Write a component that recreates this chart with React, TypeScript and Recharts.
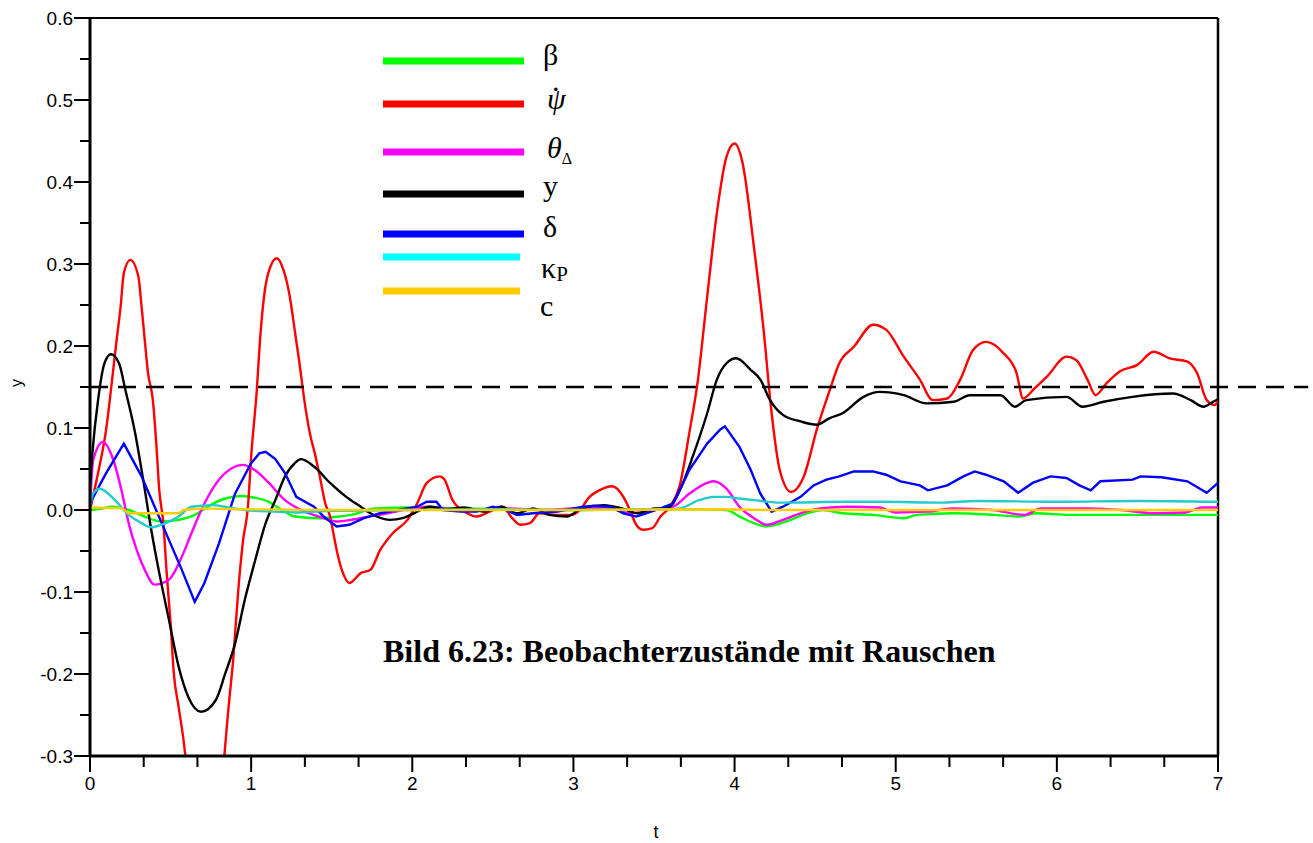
import { LineChart, Line, XAxis, YAxis, ReferenceLine } from "recharts";

type Pt = [number, number];

// observer states as [t, value]
const beta: Pt[] = [
  [0, 0], [0.08, 0.002], [0.13, 0.004], [0.24, 0], [0.34, -0.008], [0.44, -0.014],
  [0.55, -0.012], [0.65, -0.006], [0.73, 0.004], [0.84, 0.014], [0.94, 0.017],
  [1.02, 0.015], [1.11, 0.01], [1.19, 0], [1.27, -0.008], [1.42, -0.01], [1.54, -0.008],
  [1.62, -0.006], [1.77, 0.002], [2.0, 0.003], [2.3, 0.002], [2.6, 0.001], [3.0, 0],
  [3.4, 0.001], [3.8, 0.001], [3.95, 0], [4.03, -0.008], [4.12, -0.016], [4.2, -0.02],
  [4.32, -0.014], [4.45, -0.004], [4.55, 0], [4.67, -0.004], [4.86, -0.006], [5.05, -0.01],
  [5.13, -0.006], [5.36, -0.004], [5.61, -0.006], [5.77, -0.008], [5.87, -0.004],
  [6.08, -0.006], [6.5, -0.006], [7, -0.006],
];

const psiDot: Pt[] = [
  [0, 0], [0.05, 0.045], [0.1, 0.098], [0.135, 0.155], [0.165, 0.207], [0.19, 0.248],
  [0.21, 0.289], [0.25, 0.305], [0.3, 0.285], [0.32, 0.248], [0.34, 0.207], [0.36, 0.167],
  [0.39, 0.134], [0.41, 0.085], [0.43, 0.024], [0.455, -0.016], [0.476, -0.077],
  [0.5, -0.138], [0.52, -0.199], [0.55, -0.24], [0.58, -0.28], [0.62, -0.35], [0.715, -0.45],
  [0.81, -0.35], [0.86, -0.24], [0.89, -0.179], [0.92, -0.098], [0.95, -0.037],
  [0.98, 0.004], [1.0, 0.065], [1.035, 0.146], [1.055, 0.207], [1.085, 0.268],
  [1.12, 0.297], [1.16, 0.307], [1.2, 0.293], [1.24, 0.26], [1.27, 0.22], [1.3, 0.179],
  [1.33, 0.134], [1.365, 0.093], [1.4, 0.065], [1.43, 0.037], [1.46, 0.008],
  [1.49, -0.008], [1.51, -0.028], [1.54, -0.057], [1.57, -0.077], [1.61, -0.089],
  [1.68, -0.077], [1.74, -0.073], [1.8, -0.049], [1.88, -0.028], [1.97, -0.012],
  [2.03, 0.008], [2.09, 0.033], [2.17, 0.041], [2.2, 0.037], [2.25, 0.012], [2.34, -0.004],
  [2.4, -0.008], [2.48, -0.002], [2.56, 0.004], [2.62, -0.01], [2.67, -0.018],
  [2.73, -0.016], [2.79, -0.004], [2.89, -0.006], [2.98, -0.006], [3.04, 0], [3.1, 0.016],
  [3.16, 0.024], [3.24, 0.029], [3.31, 0.016], [3.35, 0], [3.39, -0.018], [3.43, -0.024],
  [3.49, -0.022], [3.54, -0.008], [3.6, 0.004], [3.66, 0.03], [3.72, 0.095], [3.77, 0.155],
  [3.83, 0.26], [3.89, 0.362], [3.95, 0.431], [4.0, 0.447], [4.05, 0.423], [4.12, 0.321],
  [4.18, 0.22], [4.23, 0.118], [4.28, 0.049], [4.35, 0.022], [4.43, 0.041], [4.51, 0.098],
  [4.59, 0.146], [4.65, 0.179], [4.74, 0.199], [4.86, 0.226], [4.94, 0.22], [5.05, 0.187],
  [5.15, 0.159], [5.23, 0.134], [5.32, 0.136], [5.4, 0.159], [5.48, 0.195], [5.56, 0.205],
  [5.67, 0.191], [5.75, 0.167], [5.79, 0.136], [5.86, 0.148], [5.94, 0.163], [6.06, 0.187],
  [6.12, 0.183], [6.19, 0.159], [6.24, 0.14], [6.31, 0.155], [6.39, 0.169], [6.5, 0.177],
  [6.6, 0.193], [6.7, 0.185], [6.81, 0.181], [6.87, 0.167], [6.93, 0.134], [6.98, 0.128],
  [7, 0.135],
];

const thetaDelta: Pt[] = [
  [0, 0], [0.01, 0.04], [0.02, 0.061], [0.08, 0.083], [0.145, 0.061], [0.2, 0.02],
  [0.24, -0.016], [0.29, -0.049], [0.34, -0.073], [0.4, -0.091], [0.49, -0.085],
  [0.57, -0.057], [0.63, -0.028], [0.71, 0.008], [0.8, 0.037], [0.88, 0.051], [0.95, 0.055],
  [1.02, 0.049], [1.11, 0.033], [1.21, 0.012], [1.31, 0], [1.42, -0.008], [1.54, -0.014],
  [1.62, -0.012], [1.73, -0.008], [1.85, -0.004], [2.0, 0.002], [2.1, 0.004], [2.2, 0.002],
  [2.4, 0], [2.6, 0.002], [2.8, 0], [3.0, 0.002], [3.2, 0.003], [3.35, -0.004], [3.5, 0],
  [3.62, 0.004], [3.72, 0.02], [3.83, 0.033], [3.87, 0.035], [3.95, 0.026], [4.03, 0.004],
  [4.12, -0.01], [4.2, -0.018], [4.3, -0.012], [4.41, -0.004], [4.53, 0.002], [4.7, 0.004],
  [4.9, 0.003], [5.0, -0.003], [5.2, -0.002], [5.35, 0.002], [5.6, 0], [5.8, -0.006],
  [5.9, 0.002], [6.2, 0.002], [6.4, 0], [6.6, -0.004], [6.8, -0.003], [6.9, 0.003], [7, 0.003],
];

const yPos: Pt[] = [
  [0, 0.03], [0.015, 0.07], [0.05, 0.134], [0.09, 0.179], [0.13, 0.19], [0.18, 0.179],
  [0.22, 0.146], [0.28, 0.094], [0.33, 0.037], [0.38, -0.024], [0.43, -0.077],
  [0.49, -0.134], [0.55, -0.191], [0.61, -0.228], [0.69, -0.246], [0.78, -0.232],
  [0.84, -0.199], [0.9, -0.163], [0.96, -0.11], [1.02, -0.065], [1.09, -0.016],
  [1.15, 0.012], [1.21, 0.041], [1.27, 0.057], [1.31, 0.062], [1.39, 0.053], [1.49, 0.033],
  [1.59, 0.016], [1.68, 0.004], [1.74, -0.004], [1.86, -0.012], [1.94, -0.01],
  [2.01, -0.004], [2.11, 0.004], [2.21, 0.001], [2.32, 0.003], [2.45, -0.002],
  [2.55, 0.004], [2.65, -0.004], [2.75, 0.002], [2.85, -0.006], [2.96, -0.008],
  [3.05, 0.002], [3.19, 0.006], [3.3, 0.002], [3.4, -0.004], [3.5, 0.002], [3.58, 0.002],
  [3.66, 0.024], [3.74, 0.065], [3.83, 0.118], [3.89, 0.159], [3.95, 0.179], [4.01, 0.185],
  [4.1, 0.171], [4.16, 0.159], [4.22, 0.134], [4.3, 0.116], [4.41, 0.108], [4.51, 0.104],
  [4.59, 0.112], [4.67, 0.118], [4.8, 0.138], [4.9, 0.144], [5.05, 0.14], [5.19, 0.13],
  [5.36, 0.132], [5.46, 0.14], [5.65, 0.14], [5.74, 0.126], [5.81, 0.134], [6.06, 0.138],
  [6.16, 0.126], [6.29, 0.132], [6.47, 0.138], [6.72, 0.142], [6.83, 0.134], [6.91, 0.126],
  [6.97, 0.132], [7, 0.135],
];

const delta: Pt[] = [
  [0, 0], [0.01, 0.012], [0.1, 0.045], [0.21, 0.081], [0.32, 0.041], [0.445, -0.016],
  [0.57, -0.073], [0.65, -0.112], [0.71, -0.089], [0.8, -0.041], [0.9, 0.02], [1.0, 0.057],
  [1.05, 0.069], [1.09, 0.071], [1.15, 0.062], [1.21, 0.045], [1.28, 0.016], [1.39, 0.004],
  [1.45, -0.008], [1.53, -0.02], [1.61, -0.018], [1.7, -0.01], [1.8, -0.004], [1.97, 0.002],
  [2.03, 0.004], [2.09, 0.01], [2.15, 0.01], [2.19, 0], [2.3, -0.002], [2.4, -0.002],
  [2.5, 0.004], [2.58, 0], [2.65, -0.006], [2.75, -0.004], [2.9, -0.002], [3.06, 0.004],
  [3.12, 0.005], [3.23, 0.004], [3.31, -0.004], [3.39, -0.008], [3.45, -0.004],
  [3.54, 0.002], [3.62, 0.008], [3.72, 0.049], [3.83, 0.081], [3.91, 0.098], [3.94, 0.102],
  [4.03, 0.077], [4.1, 0.049], [4.16, 0.02], [4.23, -0.002], [4.3, 0.004], [4.41, 0.016],
  [4.49, 0.03], [4.57, 0.037], [4.65, 0.041], [4.74, 0.047], [4.86, 0.047], [4.94, 0.043],
  [5.03, 0.035], [5.15, 0.03], [5.2, 0.024], [5.32, 0.03], [5.42, 0.041], [5.49, 0.047],
  [5.56, 0.043], [5.67, 0.035], [5.76, 0.021], [5.85, 0.033], [5.96, 0.041], [6.06, 0.039],
  [6.14, 0.03], [6.21, 0.024], [6.27, 0.035], [6.47, 0.037], [6.52, 0.041], [6.65, 0.04],
  [6.81, 0.035], [6.93, 0.021], [7, 0.033],
];

const kappaP: Pt[] = [
  [0, 0.005], [0.02, 0.02], [0.06, 0.026], [0.155, 0.012], [0.24, -0.006], [0.32, -0.016],
  [0.38, -0.021], [0.47, -0.016], [0.55, -0.008], [0.63, 0.004], [0.76, 0.006],
  [0.86, 0.003], [0.96, 0], [1.13, -0.002], [1.3, -0.003], [1.5, -0.001], [2.0, 0],
  [2.5, 0.001], [3.0, 0], [3.6, 0.001], [3.66, 0.002], [3.78, 0.012], [3.87, 0.016],
  [3.95, 0.016], [4.03, 0.014], [4.12, 0.012], [4.28, 0.009], [4.7, 0.01], [4.9, 0.01],
  [5.3, 0.009], [5.5, 0.011], [6.0, 0.01], [6.5, 0.011], [7, 0.01],
];

const cState: Pt[] = [
  [0, 0.003], [0.2, 0.002], [0.24, -0.004], [0.55, -0.004], [0.58, 0], [0.7, 0.002],
  [0.9, 0.001], [1.5, 0], [3.0, 0], [3.9, 0.001], [4.2, 0], [7, 0],
];

const xTicks = [0, 1 / 3, 2 / 3, 1, 4 / 3, 5 / 3, 2, 7 / 3, 8 / 3, 3, 10 / 3, 11 / 3, 4,
  13 / 3, 14 / 3, 5, 16 / 3, 17 / 3, 6, 19 / 3, 20 / 3, 7];
const yTicks = [-0.3, -0.25, -0.2, -0.15, -0.1, -0.05, 0, 0.05, 0.1, 0.15, 0.2, 0.25,
  0.3, 0.35, 0.4, 0.45, 0.5, 0.55, 0.6];
const refLevel = 0.15;

const series = [
  { key: "beta", data: beta, color: "#00ff00", legend: "#00ff00", curve: "monotone" },
  { key: "psiDot", data: psiDot, color: "#ff0000", legend: "#ff0000", curve: "monotone" },
  { key: "theta", data: thetaDelta, color: "#ff00ff", legend: "#ff00ff", curve: "monotone" },
  { key: "y", data: yPos, color: "#000000", legend: "#000000", curve: "monotone" },
  { key: "delta", data: delta, color: "#0000ff", legend: "#0000ff", curve: "linear" },
  { key: "kappa", data: kappaP, color: "#22cccc", legend: "#00ffff", curve: "monotone" },
  { key: "c", data: cState, color: "#ffcc00", legend: "#ffcc00", curve: "linear" },
];

const toRows = (pts: Pt[]) => pts.map(([t, v]) => ({ t, v }));

const sans = "'Liberation Sans', Arial, sans-serif";
const serif = "'Liberation Serif', 'Times New Roman', serif";

function XTick({ x, y, payload }: any) {
  const v = payload.value as number;
  const major = Math.abs(v - Math.round(v)) < 1e-6;
  return (
    <g>
      <line x1={x} y1={y} x2={x} y2={y + (major ? 16 : 11)} stroke="#000" strokeWidth={2} />
      {major && (
        <text x={x} y={y + 34} textAnchor="middle" fontSize={19} fontFamily={sans} fill="#000">
          {Math.round(v)}
        </text>
      )}
    </g>
  );
}

function YTick({ x, y, payload }: any) {
  const v = payload.value as number;
  const major = Math.abs(v * 10 - Math.round(v * 10)) < 1e-6;
  return (
    <g>
      <line x1={x - (major ? 16 : 10)} y1={y} x2={x} y2={y} stroke="#000" strokeWidth={2} />
      {major && (
        <text x={x - 17} y={y + 7} textAnchor="end" fontSize={19} fontFamily={sans} fill="#000">
          {v.toFixed(1)}
        </text>
      )}
    </g>
  );
}

// legend rows: line y, label baseline
const legendRows = [
  { y: 61, x2: 524, base: 65 },
  { y: 104, x2: 524, base: 109 },
  { y: 152, x2: 524, base: 158 },
  { y: 194, x2: 524, base: 196 },
  { y: 234, x2: 524, base: 237 },
  { y: 257, x2: 520, base: 278 },
  { y: 291, x2: 520, base: 316 },
];

function LegendLabel({ i, base }: { i: number; base: number }) {
  const common = { fontFamily: serif, fill: "#000" };
  switch (i) {
    case 0:
      return <text x={543} y={base} fontSize={30} {...common}>β</text>;
    case 1:
      // psi with the time-derivative dot set above it
      return (
        <text x={547} y={base} fontSize={30} fontStyle="italic" {...common}>
          ψ<tspan fontStyle="normal" dx={-15} dy={-10}>·</tspan>
        </text>
      );
    case 2:
      return (
        <text x={547} y={base} fontSize={30} fontStyle="italic" {...common}>
          θ<tspan fontStyle="normal" fontSize={16} dy={6}>Δ</tspan>
        </text>
      );
    case 3:
      return <text x={543} y={base} fontSize={30} {...common}>y</text>;
    case 4:
      return <text x={543} y={base} fontSize={30} {...common}>δ</text>;
    case 5:
      return (
        <text x={541} y={base} fontSize={30} {...common}>
          κ<tspan fontSize={21} dy={3}>P</tspan>
        </text>
      );
    default:
      return <text x={540} y={base} fontSize={30} {...common}>c</text>;
  }
}

export default function App() {
  return (
    <div style={{ position: "absolute", left: 0, top: 0, width: 1313, height: 843, background: "#fff" }}>
      <LineChart width={1313} height={843} margin={{ top: 18, right: 95, bottom: 27, left: 30 }}>
        <XAxis
          dataKey="t"
          type="number"
          domain={[0, 7]}
          ticks={xTicks}
          interval={0}
          height={60}
          tickSize={0}
          tickMargin={0}
          tickLine={false}
          tick={<XTick />}
          axisLine={{ stroke: "#000", strokeWidth: 3 }}
          allowDataOverflow
        />
        <YAxis
          type="number"
          domain={[-0.3, 0.6]}
          ticks={yTicks}
          interval={0}
          width={60}
          tickSize={0}
          tickMargin={0}
          tickLine={false}
          tick={<YTick />}
          axisLine={{ stroke: "#000", strokeWidth: 3 }}
          allowDataOverflow
        />
        <ReferenceLine y={0.6} stroke="#000" strokeWidth={2} />
        <ReferenceLine x={7} stroke="#000" strokeWidth={2.5} />
        {series.map((s) => (
          <Line
            key={s.key}
            data={toRows(s.data)}
            dataKey="v"
            type={s.curve as any}
            stroke={s.color}
            strokeWidth={2.4}
            dot={false}
            activeDot={false}
            isAnimationActive={false}
          />
        ))}
        <ReferenceLine
          segment={[{ x: 0, y: refLevel }, { x: 7.56, y: refLevel }]}
          stroke="#000"
          strokeWidth={2.5}
          strokeDasharray="18 10"
          ifOverflow="visible"
        />
      </LineChart>

      <svg
        width={1313}
        height={843}
        style={{ position: "absolute", left: 0, top: 0, pointerEvents: "none" }}
      >
        {series.map((s, i) => (
          <g key={s.key}>
            <line
              x1={383}
              x2={legendRows[i].x2}
              y1={legendRows[i].y}
              y2={legendRows[i].y}
              stroke={s.legend}
              strokeWidth={7}
            />
            <LegendLabel i={i} base={legendRows[i].base} />
          </g>
        ))}
        <text x={383} y={662} fontSize={32} fontWeight="bold" fontFamily={serif} fill="#000">
          Bild 6.23: Beobachterzustände mit Rauschen
        </text>
        <text x={656} y={838} textAnchor="middle" fontSize={18} fontFamily={sans} fill="#000">
          t
        </text>
        <text
          x={22}
          y={383}
          textAnchor="middle"
          fontSize={16}
          fontFamily={sans}
          fill="#000"
          transform="rotate(-90 22 383)"
        >
          y
        </text>
      </svg>
    </div>
  );
}
